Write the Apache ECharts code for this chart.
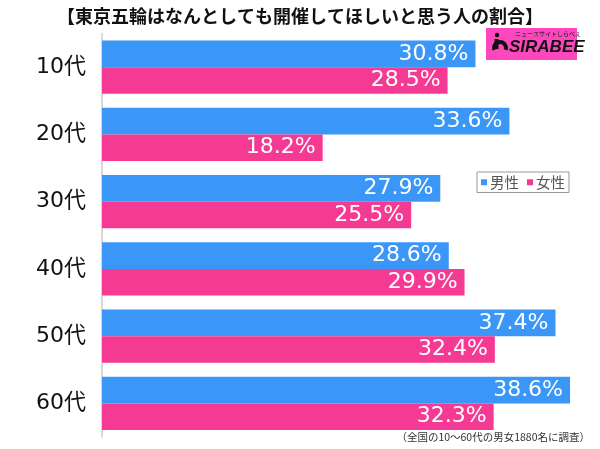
<!DOCTYPE html>
<html><head><meta charset="utf-8">
<script src="https://cdn.jsdelivr.net/npm/echarts@6/dist/echarts.min.js"></script>
<style>html,body{margin:0;padding:0;background:#fff}#c{width:600px;height:449px}</style>
</head><body><div id="c"></div>
<script>
const categories = ['10代','20代','30代','40代','50代','60代'];
const male = [30.8, 33.6, 27.9, 28.6, 37.4, 38.6];
const female = [28.5, 18.2, 25.5, 29.9, 32.4, 32.3];
const seriesNames = ['男性','女性'];
const titleText = '【東京五輪はなんとしても開催してほしいと思う人の割合】';
const noteText = '（全国の10～60代の男女1880名に調査）';

const font = '"Noto Sans CJK JP","Noto Sans",sans-serif';
const numFont = '"DejaVu Sans","Noto Sans CJK JP",sans-serif';
const chart = echarts.init(document.getElementById('c'));
const lbl = {show:true, position:'insideRight', distance:7, color:'#fff', fontSize:22, fontFamily:numFont, formatter: p => p.value.toFixed(1)+'%'};
chart.setOption({
  animation:false,
  title:{text:titleText, left:'center', top:2, textStyle:{fontSize:18, fontWeight:'bold', color:'#111', fontFamily:font}},
  legend:{data:seriesNames, left:477, top:172, itemWidth:6, itemHeight:6, itemGap:8, icon:'rect', borderColor:'#999', borderWidth:1, padding:[3,4], borderRadius:0,
    textStyle:{fontSize:14.5, color:'#555', fontFamily:font, padding:[0,0,0,-2]}},
  grid:{left:102, right:13, top:33.5, bottom:12, containLabel:false},
  xAxis:{type:'value', min:0, max:40, show:false},
  yAxis:{type:'category', data:categories, inverse:true,
    axisLine:{show:true, lineStyle:{color:'#ccc', width:1.5}}, axisTick:{show:false},
    axisLabel:{fontSize:22, color:'#111', margin:16, fontFamily:numFont}},
  series:[
    {name:seriesNames[0], type:'bar', data:male, itemStyle:{color:'#3b97f7'}, barCategoryGap:'21%', barGap:'0%', label:lbl},
    {name:seriesNames[1], type:'bar', data:female, itemStyle:{color:'#f43a92'}, barCategoryGap:'21%', barGap:'0%', label:lbl}
  ],
  graphic:[
    {type:'text', right:10, top:432, style:{text:noteText, fontSize:10.5, fill:'#333', fontFamily:font}},
    {type:'group', left:486, top:28, children:[
      {type:'rect', shape:{x:0,y:0,width:91,height:32}, style:{fill:'#fd48bd'}},
      {type:'circle', shape:{cx:11, cy:7, r:2.2}, style:{fill:'#111'}},
      {type:'arc', shape:{cx:14, cy:20, r:6, startAngle:Math.PI*0.9, endAngle:Math.PI*2.1}, style:{stroke:'#111', lineWidth:4, fill:null}},
      {type:'rect', shape:{x:8.5,y:11,width:4,height:10}, style:{fill:'#111'}},
      {type:'text', x:29, y:3, style:{text:'ニュースサイトしらべぇ', fontSize:6, fill:'#111', fontFamily:font}},
      {type:'text', x:23, y:11, style:{text:'SIRABEE', fontSize:17, fontWeight:'bold', fontStyle:'italic', fill:'#111', fontFamily:'"Liberation Sans",Arial,sans-serif'}}
    ]}
  ]
});
</script></body></html>
